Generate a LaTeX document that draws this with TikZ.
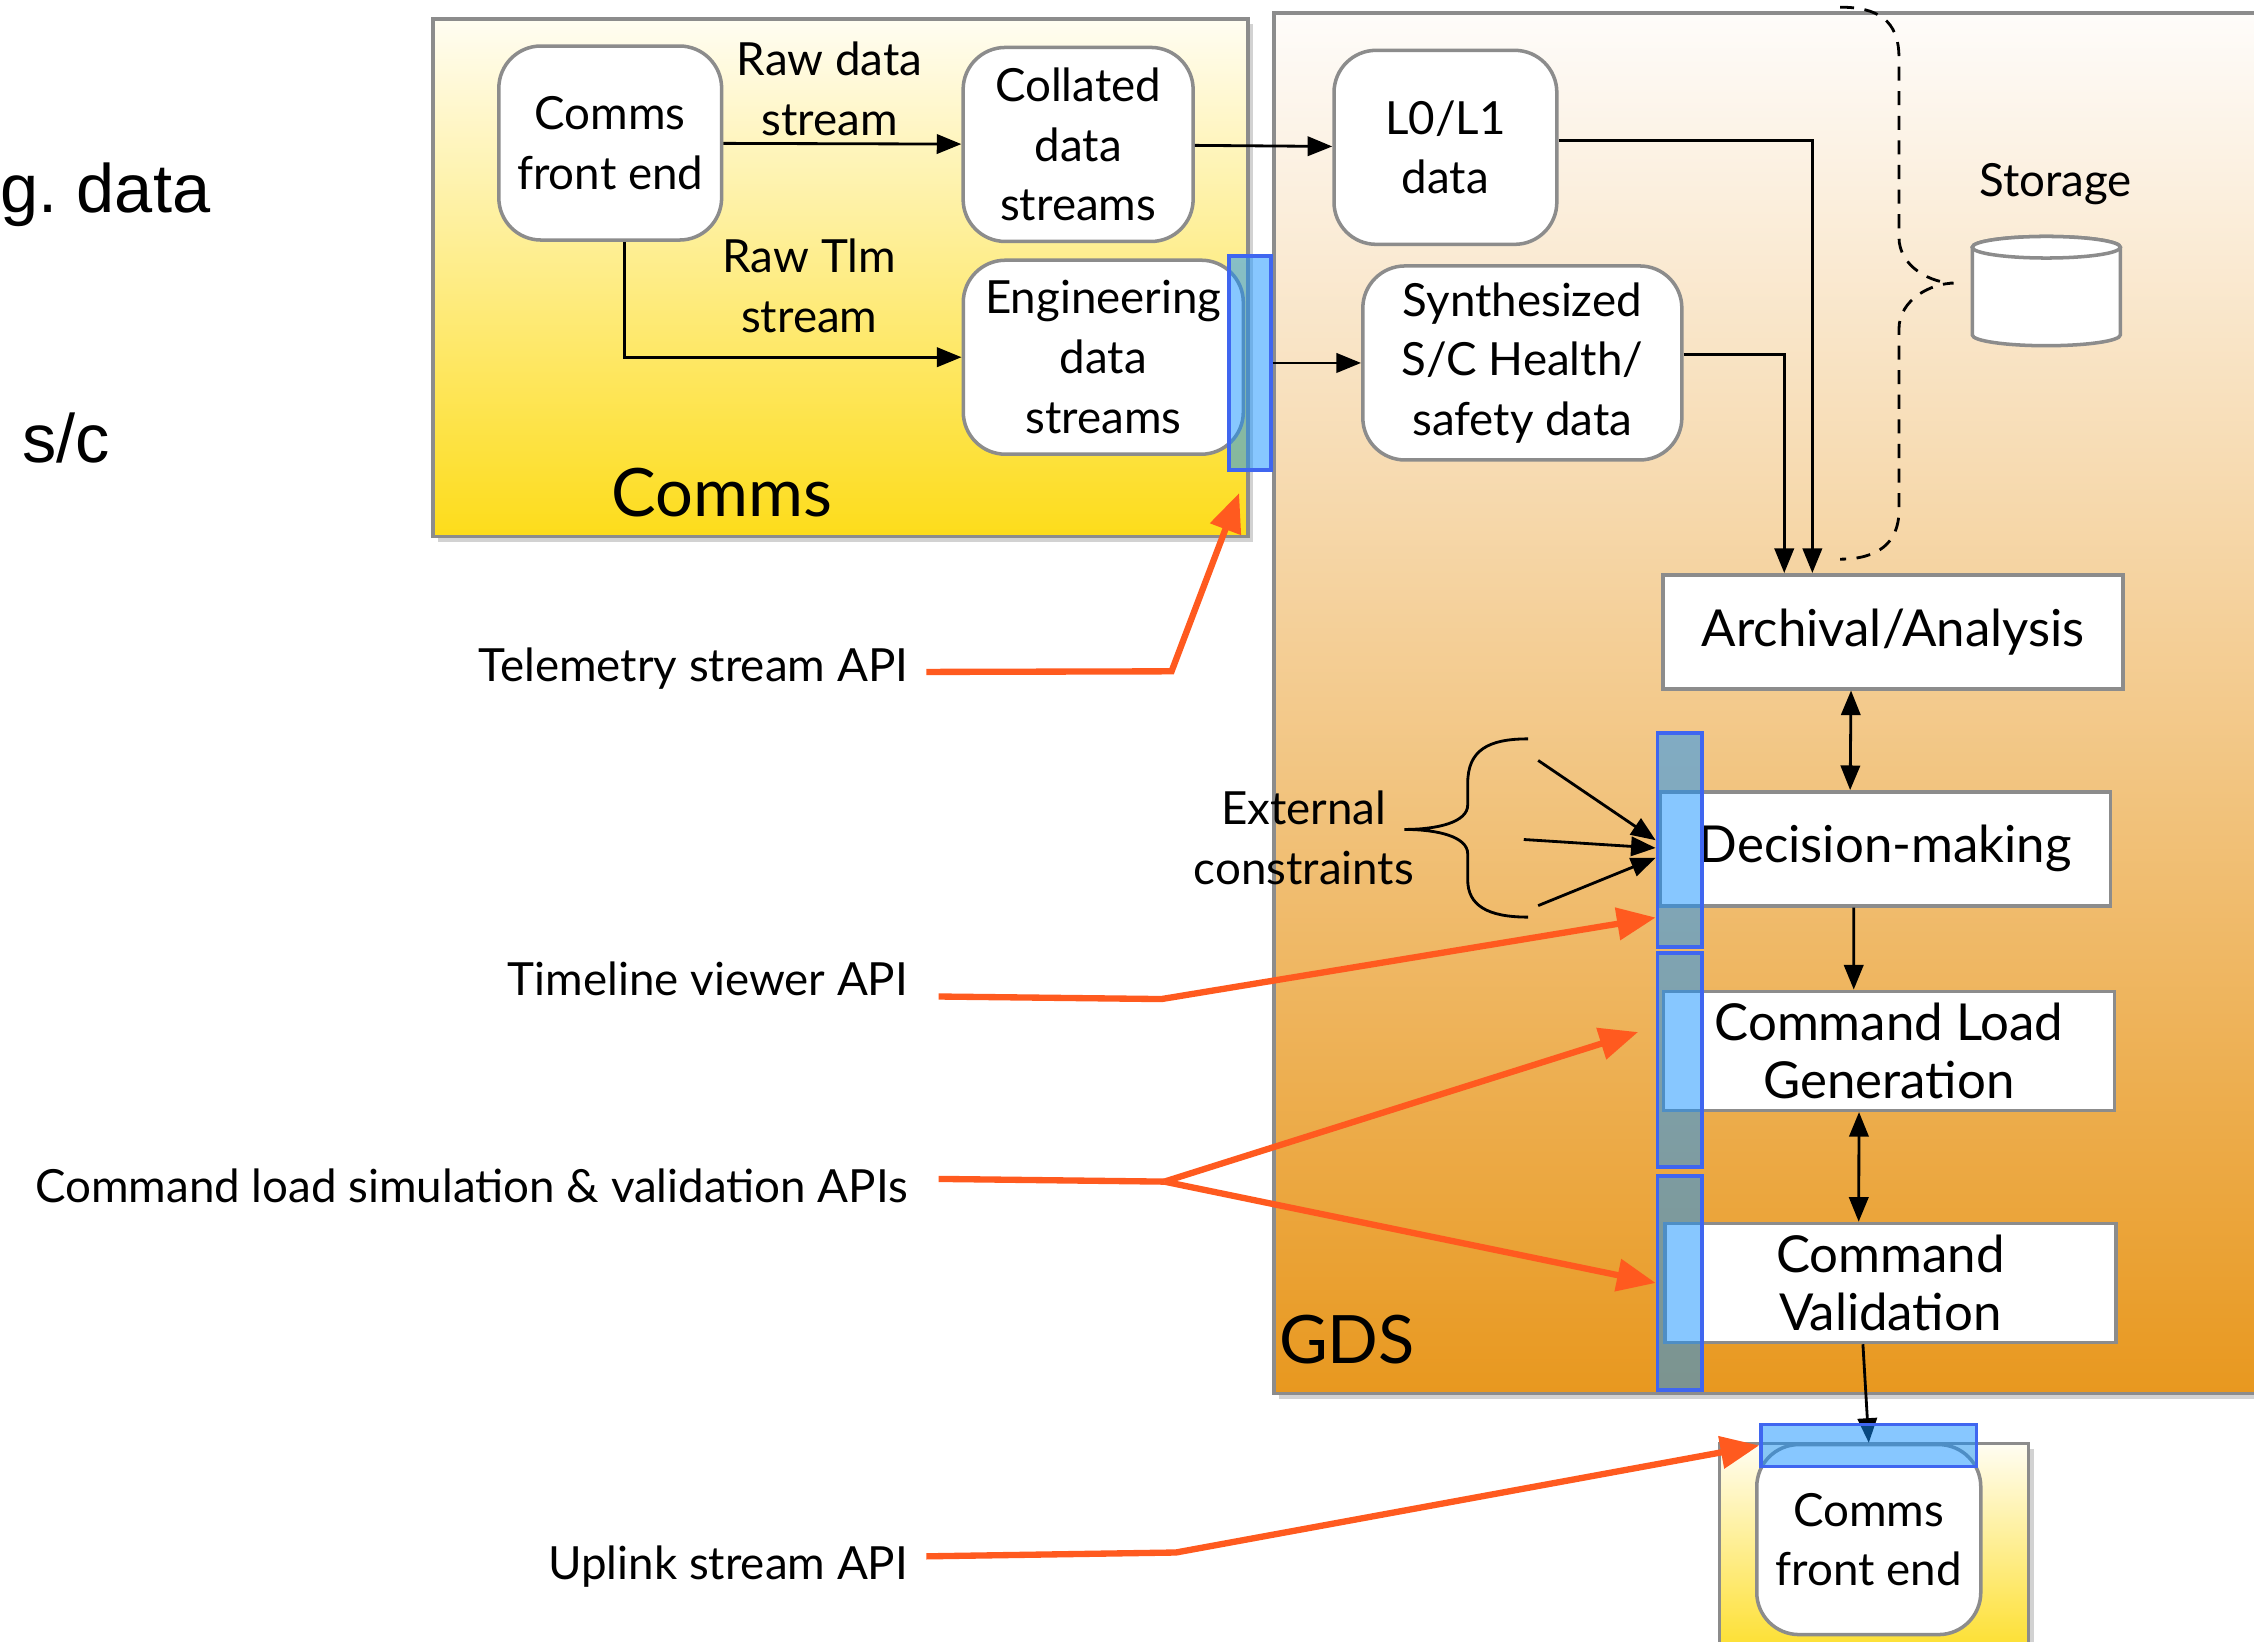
\documentclass[tikz,border=0pt]{standalone}
\usepackage{fontspec}
\setmainfont{Lato}
\newfontfamily\slidefont{Liberation Sans}
\usepackage{tikz}
\usetikzlibrary{arrows.meta,positioning,calc,shadows}
\definecolor{EdgeGray}{HTML}{8C8C8C}
\definecolor{CommsTop}{HTML}{FFFDF2}
\definecolor{CommsBot}{HTML}{FDDC1A}
\definecolor{GDSTop}{HTML}{FEFCFA}
\definecolor{GDSBot}{HTML}{E8981F}
\definecolor{BarBlue}{HTML}{1191FF}
\definecolor{BarEdge}{HTML}{3F66F0}
\definecolor{APIOrange}{HTML}{FF5A1F}

\begin{document}
\begin{tikzpicture}[
  x=0.014375cm, y=-0.014375cm,
  every node/.style={font=\fontsize{13}{17}\selectfont,align=center},
  panel/.style={draw=EdgeGray,line width=1pt,drop shadow={shadow xshift=1.5pt,shadow yshift=-1.5pt,opacity=0.35}},
  blob/.style={draw=EdgeGray,line width=1pt,fill=white,rounded corners=12pt,minimum height=1.94cm},
  stage/.style={draw=EdgeGray,line width=1pt,fill=white,font=\fontsize{14.5}{16.4}\selectfont,minimum height=1.14cm},
  apibar/.style={draw=BarEdge,line width=1pt,fill=BarBlue,fill opacity=0.5},
  store/.style={draw=EdgeGray,line width=1pt,fill=white},
  paneltitle/.style={font=\fontsize{19}{23}\selectfont},
  slide/.style={font=\slidefont\fontsize{19.5}{24}\selectfont,inner sep=0pt},
  apilbl/.style={anchor=east,inner sep=4pt},
  arr/.style={-{Triangle[length=7pt,width=5.5pt]},line width=0.8pt},
  dbl/.style={{Triangle[length=7pt,width=5.5pt]}-{Triangle[length=7pt,width=5.5pt]},line width=0.8pt},
  api/.style={draw=APIOrange,line width=1.8pt},
  apiarr/.style={api,-{Triangle[length=11pt,width=9pt]}},
  hint/.style={dash pattern=on 4pt off 3pt,line width=0.8pt}
]
\useasboundingbox (0,0) rectangle (1568,1142);
\clip (0,0) rectangle (1568,1142);
\fill[white] (0,0) rectangle (1568,1142);

\node[slide,anchor=base west] (slidea) at (0,148) {g.\ data};
\node[slide,anchor=base east] (slideb) at (77,322) {s/c};

\node[panel,top color=CommsTop,bottom color=CommsBot,minimum width=8.151cm,minimum height=5.175cm,anchor=north west] (commsbox) at (300,12) {};
\node[panel,top color=GDSTop,bottom color=GDSBot,minimum width=10cm,minimum height=13.8cm,anchor=north west] (gdsbox) at (885,8) {};
\node[panel,top color=CommsTop,bottom color=CommsBot,minimum width=3.09cm,minimum height=2.3cm,anchor=north west] (commsboxb) at (1195,1003) {};
\node[paneltitle] (commstitle) at (502,343) {Comms};
\node[paneltitle] (gdstitle) at (937,932) {GDS};

\node[blob,minimum width=2.228cm] (frontend) at (424.5,99.5) {Comms\\front end};
\node[blob,minimum width=2.30cm] (collated) at (750,100.5) {Collated\\data\\streams};
\node[blob,minimum width=2.80cm] (engineering) at (767.5,248.5) {Engineering\\data\\streams};
\node (rawdata) at (577,62) {Raw data\\stream};
\node (rawtlm) at (563,199) {Raw Tlm\\stream};
\node[blob,minimum width=2.228cm] (lzero) at (1005.5,102.5) {L0/L1\\data};
\node[blob,minimum width=3.19cm] (synth) at (1059,252.5) {Synthesized\\S/C Health/\\safety data};

\filldraw[store] (1372,172) -- (1372,233) arc[start angle=180,end angle=0,x radius=51.5,y radius=7.5]
  -- (1475,172) arc[start angle=0,end angle=-180,x radius=51.5,y radius=7.5] -- cycle;
\draw[store] (1423.5,172) ellipse [x radius=51.5,y radius=7.5];
\node (storelbl) at (1430,128) {Storage};

\node[stage,minimum width=4.60cm] (archival) at (1317,439.5) {Archival/Analysis};
\node[stage,minimum width=4.50cm] (decision) at (1311.5,590.5) {Decision-making};
\node[stage,minimum width=4.51cm] (cmdload) at (1314,731) {Command Load\\Generation};
\node[stage,minimum width=4.51cm] (cmdval) at (1315,892.5) {Command\\Validation};
\node[blob,minimum width=2.24cm,minimum height=1.90cm] (frontendb) at (1300,1071) {Comms\\front end};
\node (extc) at (907,583) {External\\constraints};

\draw[arr] (frontend) -- (collated);
\draw[arr] ([xshift=4pt]frontend.south) |- (engineering.west);
\draw[arr] (collated) -- (lzero);
\draw[arr] ([yshift=2pt]lzero.east) -| ([xshift=-23pt]archival.north);
\draw[arr] ([yshift=2.5pt]synth.east) -| ([xshift=-31pt]archival.north);
\draw[dbl] ([xshift=-12pt]archival.south) -- ([xshift=-10pt]decision.north);
\draw[arr] ([xshift=-9pt]decision.south) -- ([xshift=-10pt]cmdload.north);
\draw[dbl] ([xshift=-8.5pt]cmdload.south) -- ([xshift=-9pt]cmdval.north);
\draw[arr] ([xshift=-7.8pt]cmdval.south) -- (frontendb.north);

\draw[hint] (1280,5) .. controls (1306,5) and (1321,14) .. (1321,40) -- (1321,165)
  .. controls (1321,186) and (1344,197) .. (1359,197) .. controls (1344,197) and (1321,208) .. (1321,229)
  -- (1321,355) .. controls (1321,378) and (1306,389) .. (1280,389);
\draw[line width=0.8pt] (1063,514) .. controls (1035,514) and (1021,522) .. (1021,545) -- (1021,560)
  .. controls (1021,572) and (1000,577) .. (977,577) .. controls (1000,577) and (1021,582) .. (1021,594)
  -- (1021,612) .. controls (1021,630) and (1035,638) .. (1063,638);

\node[apibar,minimum width=0.417cm,minimum height=2.14cm] (engbar) at (869.5,252.5) {};
\node[apibar,minimum width=0.446cm,minimum height=2.14cm] (dmbar) at (1168.5,584.5) {};
\node[apibar,minimum width=0.446cm,minimum height=2.14cm] (clbar) at (1168.5,737.5) {};
\node[apibar,minimum width=0.446cm,minimum height=2.14cm] (cvbar) at (1168.5,892.5) {};
\node[apibar,minimum width=2.156cm,minimum height=0.417cm] (upbar) at (1300,1005.5) {};
\draw[arr] (engbar) -- (synth);

\coordinate (eca) at (1070,529);
\coordinate (ecb) at (1060,584);
\coordinate (ecc) at (1070,630);
\draw[arr] (eca) -- (dmbar.west);
\draw[arr] (ecb) -- ([yshift=-2.2pt]dmbar.west);
\draw[arr] (ecc) -- ([yshift=-5pt]dmbar.west);

\node[apilbl] (telapi) at (642,465) {Telemetry stream API};
\node[apilbl] (tlapi) at (642,681) {Timeline viewer API};
\node[apilbl] (cmdapi) at (642,825) {Command load simulation \& validation APIs};
\node[apilbl] (upapi) at (642,1090) {Uplink stream API};
\coordinate (telbend) at (815,467);
\coordinate (teltip) at (862,343);
\coordinate (tlbend) at (808,695);
\coordinate (cmdsplit) at (810,822);
\coordinate (upbend) at (818,1080);
\draw[apiarr] ([xshift=1pt,yshift=-1pt]telapi.east) -- (telbend) -- (teltip);
\draw[apiarr] ([xshift=4.5pt,yshift=-5pt]tlapi.east) -- (tlbend) -- ([yshift=-22pt]dmbar.west);
\draw[api] ([xshift=4.5pt,yshift=2pt]cmdapi.east) -- (cmdsplit);
\draw[apiarr] (cmdsplit) -- ([xshift=-5pt,yshift=8pt]clbar.west);
\draw[apiarr] (cmdsplit) -- (cvbar.west);
\draw[apiarr] ([xshift=1pt,yshift=3pt]upapi.east) -- (upbend) -- (upbar.west);
\end{tikzpicture}
\end{document}
